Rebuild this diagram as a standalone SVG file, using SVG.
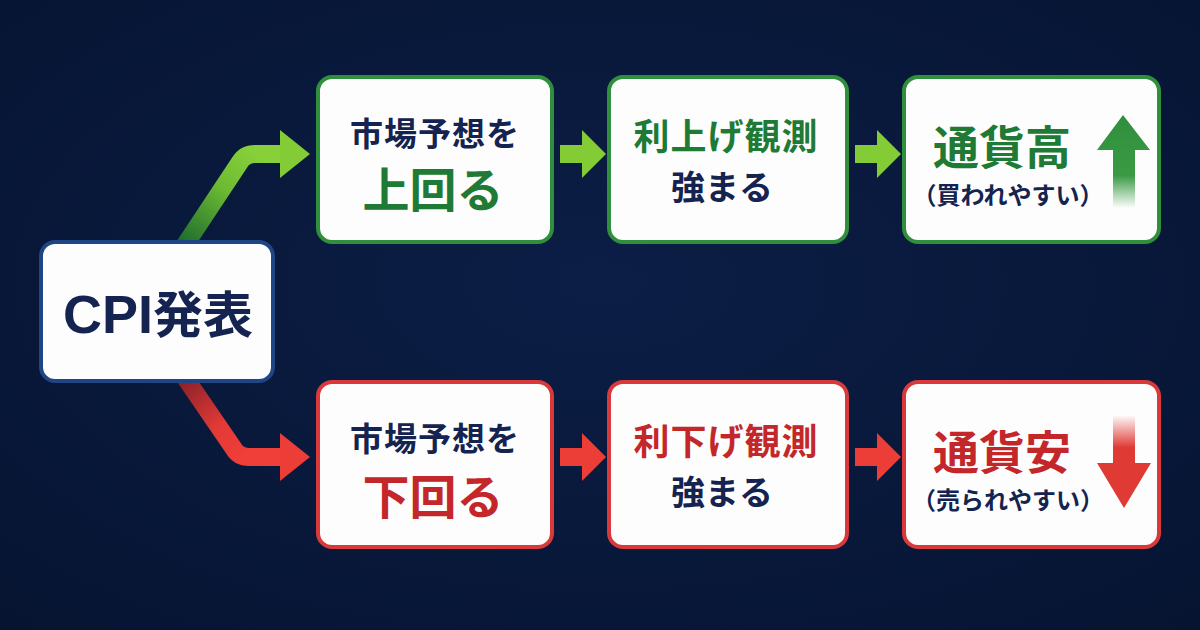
<svg xmlns="http://www.w3.org/2000/svg" width="1200" height="630" viewBox="0 0 1200 630">
  <defs>
    <radialGradient id="bg" cx="50%" cy="45%" r="75%">
      <stop offset="0" stop-color="#0c1e46"/>
      <stop offset="1" stop-color="#061431"/>
    </radialGradient>
    <linearGradient id="gUp" gradientUnits="userSpaceOnUse" x1="180" y1="242" x2="250" y2="150">
      <stop offset="0" stop-color="#1d6b2e"/>
      <stop offset="0.6" stop-color="#6dbb33"/>
      <stop offset="1" stop-color="#88d03a"/>
    </linearGradient>
    <linearGradient id="gDn" gradientUnits="userSpaceOnUse" x1="180" y1="382" x2="240" y2="460">
      <stop offset="0" stop-color="#8c2128"/>
      <stop offset="0.6" stop-color="#e23a36"/>
      <stop offset="1" stop-color="#f03e38"/>
    </linearGradient>
    <linearGradient id="upArr" x1="0" y1="0" x2="0" y2="1">
      <stop offset="0" stop-color="#2f8f3c"/>
      <stop offset="0.65" stop-color="#3a9a44"/>
      <stop offset="1" stop-color="#3a9a44" stop-opacity="0"/>
    </linearGradient>
    <linearGradient id="dnArr" x1="0" y1="1" x2="0" y2="0">
      <stop offset="0" stop-color="#e03a34"/>
      <stop offset="0.65" stop-color="#e03a34"/>
      <stop offset="1" stop-color="#e03a34" stop-opacity="0"/>
    </linearGradient>
    <style>
      .box { fill: #fdfdfd; stroke-width: 4; }
      .g { stroke: #2f8f3c; }
      .r { stroke: #d9393a; }
      .n { stroke: #1f4585; }
      text { font-family: "Noto Sans CJK JP", "Noto Sans", sans-serif; font-weight: 700; text-anchor: middle; }
      .lat { font-family: "Liberation Sans", Arial, sans-serif; font-weight: 700; }
      .navy { fill: #14234f; }
      .gt { fill: #1e7a34; }
      .rt { fill: #c4272a; }
      .lime { fill: #84cc35; }
      .red { fill: #ec3d37; }
    </style>
  </defs>

  <rect width="1200" height="630" fill="url(#bg)"/>

  <g id="connectors">
    <path d="M183,248 L240,162 Q245,154 255,154 L284,154" fill="none" stroke="url(#gUp)" stroke-width="18" stroke-linejoin="round"/>
    <polygon points="280,130 310,154 280,178" class="lime"/>
    <path d="M184,376 L234,449 Q239,457 249,457 L284,457" fill="none" stroke="url(#gDn)" stroke-width="18" stroke-linejoin="round"/>
    <polygon points="280,433 310,457 280,481" class="red"/>
    <polygon points="560,145 582,145 582,130 606,154 582,178 582,163 560,163" class="lime"/>
    <polygon points="855,145 877,145 877,130 901,154 877,178 877,163 855,163" class="lime"/>
    <polygon points="560,448 582,448 582,433 606,457 582,481 582,466 560,466" class="red"/>
    <polygon points="855,448 877,448 877,433 901,457 877,481 877,466 855,466" class="red"/>
  </g>

  <g id="cpi">
    <rect x="41" y="242" width="232" height="139" rx="14" class="box n"/>
    <text x="158" y="333" font-size="50" class="navy"><tspan class="lat" font-size="54">CPI</tspan>発表</text>
  </g>

  <g id="above">
    <rect x="318" y="77" width="234" height="165" rx="14" class="box g"/>
    <text x="435" y="146" font-size="33" letter-spacing="1" class="navy">市場予想を</text>
    <text x="433" y="207" font-size="47" class="gt">上回る</text>
  </g>

  <g id="hike">
    <rect x="609" y="77" width="238" height="165" rx="14" class="box g"/>
    <text x="726" y="150" font-size="36" letter-spacing="1" class="gt">利上げ観測</text>
    <text x="722" y="200" font-size="34" class="navy">強まる</text>
  </g>

  <g id="strong">
    <rect x="904" y="77" width="255" height="165" rx="14" class="box g"/>
    <text x="1002" y="164" font-size="46" class="gt">通貨高</text>
    <text x="1008" y="204" font-size="24" class="navy">（買われやすい）</text>
    <polygon points="1123,115 1150,150 1135,150 1135,208 1113,208 1113,150 1097,150" fill="url(#upArr)"/>
  </g>

  <g id="below">
    <rect x="318" y="382" width="234" height="165" rx="14" class="box r"/>
    <text x="435" y="451" font-size="33" letter-spacing="1" class="navy">市場予想を</text>
    <text x="433" y="514" font-size="47" class="rt">下回る</text>
  </g>

  <g id="cut">
    <rect x="609" y="382" width="238" height="165" rx="14" class="box r"/>
    <text x="726" y="455" font-size="36" letter-spacing="1" class="rt">利下げ観測</text>
    <text x="722" y="505" font-size="34" class="navy">強まる</text>
  </g>

  <g id="weak">
    <rect x="904" y="382" width="255" height="165" rx="14" class="box r"/>
    <text x="1002" y="469" font-size="46" class="rt">通貨安</text>
    <text x="1008" y="509" font-size="24" class="navy">（売られやすい）</text>
    <polygon points="1113,415 1135,415 1135,463 1151,463 1124,508 1097,463 1113,463" fill="url(#dnArr)"/>
  </g>
</svg>
